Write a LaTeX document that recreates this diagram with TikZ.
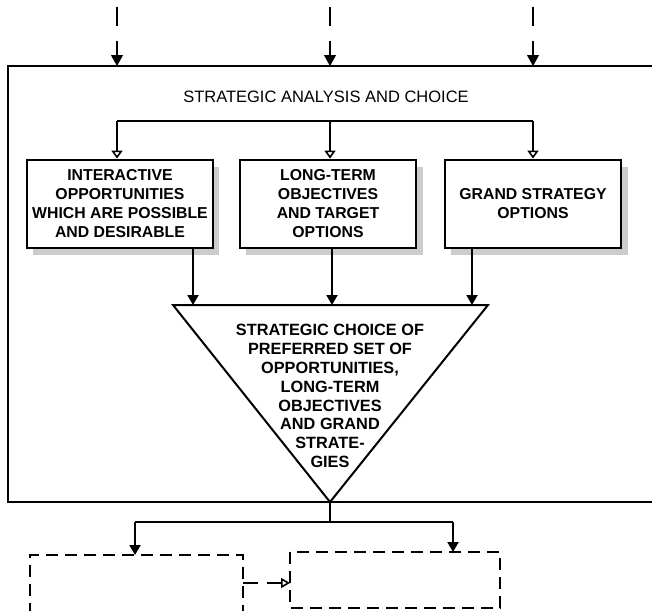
\documentclass[tikz,border=0pt]{standalone}
\usepackage{fontspec}
\setmainfont{Liberation Sans}
\usetikzlibrary{arrows.meta}
\begin{document}
\begin{tikzpicture}[x=1pt,y=-1pt,
  frameline/.style={line width=2.3pt},
  optbox/.style={draw, line width=2.8pt, fill=white, minimum height=88pt,
    align=center, inner sep=0pt,
    font=\fontsize{15.8}{19}\selectfont\bfseries},
  shadow/.style={fill=black!20},
  feed/.style={line width=2pt, -{Triangle[width=11pt,length=10pt]}},
  branch/.style={line width=2pt, -{Triangle[open,width=11pt,length=8pt,line width=1.6pt]}},
  incoming/.style={line width=1.2pt, dash pattern=on 19pt off 15pt,
    -{Triangle[width=12pt,length=11pt]}},
  laterbox/.style={line width=1.7pt, dash pattern=on 12pt off 7pt},
  link/.style={line width=1.7pt, dash pattern=on 15pt off 9pt,
    -{Triangle[open,width=10pt,length=9pt,line width=1.6pt]}}
]
\useasboundingbox (0,0) rectangle (652,610);

% outer frame, open towards the right
\draw[frameline] (652,66) -- (8,66) -- (8,502) -- (652,502);

% incoming dashed arrows onto the frame
\foreach \i/\x in {1/117,2/330,3/533}{
  \coordinate (src\i) at (\x,7);
  \coordinate (top\i) at (\x,66);
  \draw[incoming] (src\i) -- (top\i);
}

\node[font=\fontsize{16.5}{19}\selectfont] (title) at (326,97)
  {STRATEGIC ANALYSIS AND CHOICE};

% shadows behind the three option boxes
\fill[shadow] (33,167) rectangle (219,255);
\fill[shadow] (246,167) rectangle (423,255);
\fill[shadow] (451,167) rectangle (628,255);

\node[optbox, minimum width=186pt] (opp) at (120,204)
  {INTERACTIVE\\OPPORTUNITIES\\WHICH ARE POSSIBLE\\AND DESIRABLE};
\node[optbox, minimum width=176pt] (obj) at (328,204)
  {LONG-TERM\\OBJECTIVES\\AND TARGET\\OPTIONS};
\node[optbox, minimum width=176pt] (grand) at (533,204)
  {GRAND STRATEGY\\OPTIONS};

% branching line feeding the option boxes
\coordinate (b1) at (117,121);
\coordinate (b2) at (330,121);
\coordinate (b3) at (533,121);
\draw[line width=2pt] (b1) -- (b3);
\draw[branch] (b1) -- (b1 |- opp.north);
\draw[branch] (b2) -- (b2 |- obj.north);
\draw[branch] (b3) -- (b3 |- grand.north);

% choice triangle
\coordinate (tl) at (173,305);
\coordinate (tr) at (488,305);
\coordinate (apex) at (330,502);
\draw[line width=2pt, line join=miter] (tl) -- (tr) -- (apex) -- cycle;
\node[align=center, font=\fontsize{16.3}{18.8}\selectfont\bfseries] (choice) at (330,396)
  {STRATEGIC CHOICE OF\\PREFERRED SET OF\\OPPORTUNITIES,\\LONG-TERM\\OBJECTIVES\\AND GRAND\\STRATE-\\GIES};

\coordinate (t1) at (193,305);
\coordinate (t2) at (332,305);
\coordinate (t3) at (472,305);
\draw[feed] (t1 |- opp.south) -- (t1);
\draw[feed] (t2 |- obj.south) -- (t2);
\draw[feed] (t3 |- grand.south) -- (t3);

% outputs below the frame
\coordinate (split) at (330,522);
\coordinate (sl) at (135,522);
\coordinate (sr) at (453,522);
\coordinate (inl) at (135,555);
\coordinate (inr) at (453,552);
\draw[line width=1.8pt] (apex) -- (split);
\draw[line width=2pt] (sl) -- (sr);
\draw[feed] (sl) -- (inl);
\draw[feed] (sr) -- (inr);

% dashed follow-up boxes
\draw[laterbox] (30,615) -- (30,555) -- (243,555) -- (243,615);
\draw[laterbox] (290,552) rectangle (500,608);
\coordinate (la) at (243,583);
\coordinate (lb) at (290,583);
\draw[link] (la) -- (lb);
\end{tikzpicture}
\end{document}
